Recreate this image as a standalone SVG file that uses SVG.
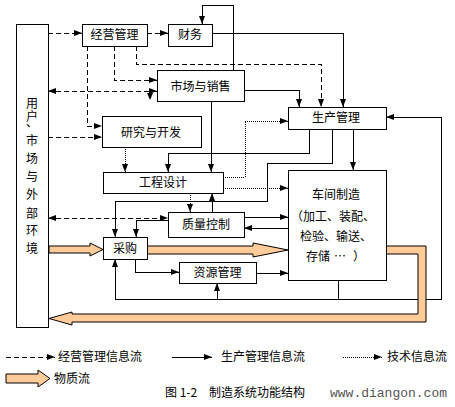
<svg xmlns="http://www.w3.org/2000/svg" width="455" height="407" viewBox="0 0 455 407">
<style>
.box{fill:#fff;stroke:#000;stroke-width:1;shape-rendering:crispEdges}
.t{font-family:"Noto Sans CJK SC","Noto Sans",sans-serif;font-size:12px;fill:#000}
.c{text-anchor:middle}
.s,.d,.o{fill:none;stroke:#000;stroke-width:1;shape-rendering:crispEdges}
.d{stroke-dasharray:5,3}
.o{stroke-dasharray:1,1}
.m{fill:#FFCC99;stroke:#000;stroke-width:1}
</style>
<defs>
<marker id="a" viewBox="0 0 8 6" refX="8" refY="3" markerWidth="8" markerHeight="6" markerUnits="userSpaceOnUse" orient="auto-start-reverse">
<path d="M0,0 L8,3 L0,6 z" fill="#000"/>
</marker>
</defs>
<rect width="455" height="407" fill="#fff"/>

<g id="connectors">
<!-- dashed: business management info -->
<path class="d" d="M48,33 H82" marker-end="url(#a)"/>
<path class="d" d="M147,33 H168" marker-end="url(#a)"/>
<path class="d" d="M87,46 V126 H102" marker-end="url(#a)"/>
<path class="d" d="M114,46 V80 H157" marker-end="url(#a)"/>
<path class="d" d="M136,46 V64 H321 V107" marker-end="url(#a)"/>
<path class="d" d="M48,91 H157" marker-start="url(#a)" marker-end="url(#a)"/>
<path d="M147,93 L153,93 L150,100 z" fill="#000"/>
<path class="d" d="M48,137 H102" marker-end="url(#a)"/>
<path class="d" d="M48,218 H168" marker-start="url(#a)" marker-end="url(#a)"/>
<!-- solid: production management info -->
<path class="s" d="M233,70 V5 H202 V24" marker-end="url(#a)"/>
<path class="s" d="M212,33 H343 V107" marker-end="url(#a)"/>
<path class="s" d="M244,90 H299 V107" marker-end="url(#a)"/>
<path class="s" d="M211,101 V172" marker-end="url(#a)"/>
<path class="s" d="M309,129 V153 H168 V172" marker-end="url(#a)"/>
<path class="s" d="M332,129 V163 H267 V201 H115 V237" marker-end="url(#a)"/>
<path class="s" d="M353,129 V170" marker-end="url(#a)"/>
<path class="s" d="M212,212 V193" marker-end="url(#a)"/>
<path class="s" d="M338,280 V299 H441 V117 H386" marker-end="url(#a)"/>
<path class="s" d="M338,299 H115 V259" marker-end="url(#a)"/>
<path class="s" d="M217,299 V283" marker-end="url(#a)"/>
<path class="s" d="M244,217 H288" marker-end="url(#a)"/>
<path class="s" d="M288,228 H244" marker-end="url(#a)"/>
<path class="s" d="M168,220 H136 V237" marker-end="url(#a)"/>
<path class="s" d="M135,259 V272 H179" marker-end="url(#a)"/>
<path class="s" d="M256,273 H288" marker-end="url(#a)"/>
<!-- dotted: technical info -->
<path class="o" d="M125,147 V172" marker-end="url(#a)"/>
<path class="o" d="M223,177 H245 V121 H288" marker-end="url(#a)"/>
<path class="o" d="M223,188 H288" marker-end="url(#a)"/>
<path class="o" d="M190,193 V212" marker-end="url(#a)"/>
<!-- material flow -->
<path class="m" d="M49,246 H90 V243 L103,249.5 L90,256 V253 H49 z"/>
<path class="m" d="M147,246 H253 V243 L288,250 L253,257 V254 H147 z"/>
<path class="m" d="M386,246 H426 V322 H72 V325 L49,318.5 L72,312 V314 H418 V254 H386 z"/>
</g>

<g id="env">
<rect class="box" x="16" y="24" width="32" height="303"/>
<text class="t c" x="32 32 32 32 32 32 32 32 32 32" y="108 121 127 145 163 181 199 218 235 253">用户、市场与外部环境</text>
</g>
<g id="jygl"><rect class="box" x="82" y="24" width="65" height="22"/><text class="t c" x="114.5" y="39">经营管理</text></g>
<g id="cw"><rect class="box" x="168" y="24" width="44" height="22"/><text class="t c" x="190" y="39">财务</text></g>
<g id="scyxs"><rect class="box" x="157" y="70" width="87" height="31"/><text class="t c" x="200.5" y="91">市场与销售</text></g>
<g id="yjykf"><rect class="box" x="102" y="116" width="99" height="31"/><text class="t c" x="151" y="137">研究与开发</text></g>
<g id="scgl"><rect class="box" x="288" y="107" width="98" height="22"/><text class="t c" x="336" y="122">生产管理</text></g>
<g id="gcsj"><rect class="box" x="103" y="172" width="120" height="21"/><text class="t c" x="163" y="187">工程设计</text></g>
<g id="zlkz"><rect class="box" x="168" y="212" width="76" height="25"/><text class="t c" x="206" y="229">质量控制</text></g>
<g id="cg"><rect class="box" x="103" y="237" width="44" height="22"/><text class="t c" x="125" y="253">采购</text></g>
<g id="zygl"><rect class="box" x="179" y="262" width="77" height="21"/><text class="t c" x="217.5" y="277">资源管理</text></g>
<g id="cjzz">
<rect class="box" x="288" y="170" width="98" height="110"/>
<text class="t c" x="336" y="199">车间制造</text>
<text class="t" x="291" y="221">（加工、装配、</text>
<text class="t" x="300" y="241">检验、输送、</text>
<text class="t" y="261"><tspan x="306">存储</tspan><tspan x="334">…</tspan><tspan x="353">）</tspan></text>
</g>

<g id="legend">
<path class="d" d="M6,357 H55" marker-end="url(#a)"/>
<text class="t" x="58" y="361">经营管理信息流</text>
<path class="s" d="M172,357 H212" marker-end="url(#a)"/>
<text class="t" x="221" y="361">生产管理信息流</text>
<path class="o" d="M343,357 H382" marker-end="url(#a)"/>
<text class="t" x="387" y="361">技术信息流</text>
<path class="m" d="M6,374 H38 V370 L50,378.5 L38,387 V383 H6 z"/>
<text class="t" x="54" y="383">物质流</text>
</g>
<g id="caption">
<text class="t" y="397"><tspan x="165">图 1-2</tspan><tspan x="209">制造系统功能结构</tspan></text>
<text x="330" y="397" font-family="Liberation Mono, monospace" font-size="13" fill="#555">www.diangon.com</text>
</g>
</svg>
